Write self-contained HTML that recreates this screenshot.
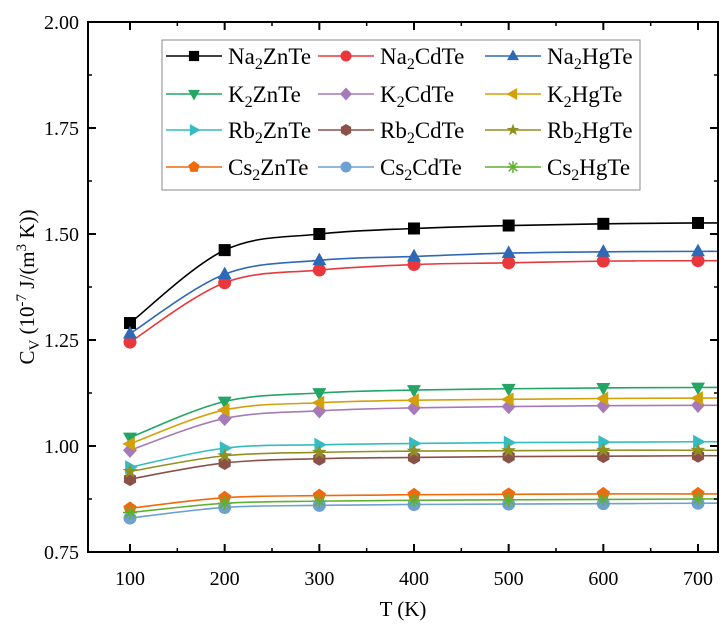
<!DOCTYPE html>
<html><head><meta charset="utf-8"><style>
body{margin:0;background:#fff}
svg, svg text, svg tspan{font-family:"Liberation Serif","Times New Roman",serif !important;fill:#000}
</style></head><body>
<svg id="chart" width="728" height="635" xmlns="http://www.w3.org/2000/svg" font-family="Liberation Serif, serif">
<g id="marks"></g>
<rect x="88" y="22" width="630" height="530" fill="none" stroke="#000" stroke-width="2"/>
<g id="axes"></g>
<text x="403" y="616" font-size="21" text-anchor="middle" font-family="Liberation Serif, serif">T (K)</text>
<text transform="translate(34,287) rotate(-90)" font-size="21" text-anchor="middle" font-family="Liberation Serif, serif">C<tspan font-size="15" dy="5">V</tspan><tspan dy="-5"> (10</tspan><tspan font-size="15" dy="-8">-7</tspan><tspan dy="8"> J/(m</tspan><tspan font-size="15" dy="-8">3</tspan><tspan dy="8"> K))</tspan></text>
<g id="legend"><rect x="162" y="40" width="478" height="150" fill="#fff" stroke="#888" stroke-width="1"/></g>
</svg>
<script>
const temps=[100,200,300,400,500,600,700];
const names=["Na2ZnTe","Na2CdTe","Na2HgTe","K2ZnTe","K2CdTe","K2HgTe","Rb2ZnTe","Rb2CdTe","Rb2HgTe","Cs2ZnTe","Cs2CdTe","Cs2HgTe"];
const na2znte=[1.29,1.462,1.50,1.513,1.52,1.524,1.526];
const na2cdte=[1.245,1.385,1.415,1.428,1.432,1.436,1.437];
const na2hgte=[1.265,1.405,1.438,1.447,1.455,1.458,1.459];
const k2znte=[1.02,1.105,1.125,1.132,1.135,1.137,1.138];
const k2cdte=[0.99,1.065,1.083,1.09,1.093,1.095,1.096];
const k2hgte=[1.005,1.085,1.102,1.108,1.11,1.112,1.113];
const rb2znte=[0.95,0.995,1.003,1.006,1.008,1.009,1.01];
const rb2cdte=[0.922,0.96,0.97,0.973,0.975,0.976,0.977];
const rb2hgte=[0.94,0.977,0.985,0.988,0.989,0.99,0.99];
const cs2znte=[0.853,0.878,0.883,0.885,0.886,0.887,0.887];
const cs2cdte=[0.83,0.855,0.86,0.862,0.863,0.864,0.865];
const cs2hgte=[0.843,0.865,0.87,0.872,0.873,0.874,0.875];
const xTicks=[100,200,300,400,500,600,700];
const yTicks=["0.75","1.00","1.25","1.50","1.75","2.00"];
const series=[na2znte,na2cdte,na2hgte,k2znte,k2cdte,k2hgte,rb2znte,rb2cdte,rb2hgte,cs2znte,cs2cdte,cs2hgte];
const colors=["#000","#e8383d","#2f68b5","#22a565","#a67ab8","#d4a00a","#35bcc2","#8b5048","#909020","#ee6a0c","#6ea0d2","#60b030"];
const shapes=["square","circle","up","down","diamond","left","right","hex","star","pent","circle","aster"];
const FF="Liberation Serif, serif";
const X=v=>130+(v-100)*568/600;
const Y=v=>22+(2-v)*424;
const NS="http://www.w3.org/2000/svg";
function mk(t,a,p){const e=document.createElementNS(NS,t);for(const k in a)e.setAttribute(k,a[k]);p.appendChild(e);return e;}
function marker(shape,cx,cy,c,p,s){
 s=s||1;let pts;const r=7*s;
 if(shape=="square")return mk("rect",{x:cx-6*s,y:cy-6*s,width:12*s,height:12*s,fill:c},p);
 if(shape=="circle")return mk("circle",{cx:cx,cy:cy,r:6.5*s,fill:c},p);
 if(shape=="hex"){pts=[];for(let i=0;i<6;i++){const a=Math.PI/6+i*Math.PI/3;pts.push([cx+r*Math.cos(a),cy+r*Math.sin(a)]);}}
 else if(shape=="pent"){pts=[];for(let i=0;i<5;i++){const a=-Math.PI/2+i*2*Math.PI/5;pts.push([cx+r*Math.cos(a),cy+r*Math.sin(a)]);}}
 else if(shape=="star"){pts=[];for(let i=0;i<10;i++){const a=-Math.PI/2+i*Math.PI/5,rr=i%2?r*0.45:r*1.1;pts.push([cx+rr*Math.cos(a),cy+rr*Math.sin(a)]);}}
 else if(shape=="up")pts=[[cx,cy-r*1.1],[cx+r,cy+r*0.7],[cx-r,cy+r*0.7]];
 else if(shape=="down")pts=[[cx,cy+r*1.1],[cx+r,cy-r*0.7],[cx-r,cy-r*0.7]];
 else if(shape=="left")pts=[[cx-r*1.1,cy],[cx+r*0.7,cy-r],[cx+r*0.7,cy+r]];
 else if(shape=="right")pts=[[cx+r*1.1,cy],[cx-r*0.7,cy-r],[cx-r*0.7,cy+r]];
 else if(shape=="diamond")pts=[[cx,cy-r*1.1],[cx+r,cy],[cx,cy+r*1.1],[cx-r,cy]];
 else if(shape=="aster"){const g=mk("g",{stroke:c,"stroke-width":1.5},p);for(let i=0;i<4;i++){const a=i*Math.PI/4;mk("line",{x1:cx-r*Math.cos(a),y1:cy-r*Math.sin(a),x2:cx+r*Math.cos(a),y2:cy+r*Math.sin(a)},g);}return g;}
 return mk("polygon",{points:pts.map(q=>q.join(",")).join(" "),fill:c},p);
}
const marks=document.getElementById("marks");
series.forEach((vals,si)=>{
 const g=mk("g",{},marks);
 
 
 const P=vals.map((v,i)=>[X(temps[i]),Y(v)]);
 P.push([718,Y(vals[vals.length-1])]);
 let d="M"+P[0][0]+","+P[0][1];
 for(let i=0;i<P.length-1;i++){const p0=P[Math.max(i-1,0)],p1=P[i],p2=P[i+1],p3=P[Math.min(i+2,P.length-1)];
  d+=" C"+(p1[0]+(p2[0]-p0[0])/6)+","+(p1[1]+(p2[1]-p0[1])/6)+" "+(p2[0]-(p3[0]-p1[0])/6)+","+(p2[1]-(p3[1]-p1[1])/6)+" "+p2[0]+","+p2[1];}
 const path=mk("path",{d:d,fill:"none",stroke:colors[si],"stroke-width":1.6},g);
 
 
 vals.forEach((v,i)=>{const m=marker(shapes[si],X(temps[i]),Y(v),colors[si],g);
  
  });
});
const ax=document.getElementById("axes");
xTicks.forEach(t=>{
 mk("line",{x1:X(t),y1:552,x2:X(t),y2:544,stroke:"#000","stroke-width":2},ax);
 mk("line",{x1:X(t),y1:22,x2:X(t),y2:30,stroke:"#000","stroke-width":2},ax);
 mk("line",{x1:X(t+50),y1:552,x2:X(t+50),y2:548,stroke:"#000","stroke-width":1.5},ax);
 mk("line",{x1:X(t+50),y1:22,x2:X(t+50),y2:26,stroke:"#000","stroke-width":1.5},ax);
 const tx=mk("text",{x:X(t),y:585,"font-size":20,"text-anchor":"middle","font-family":FF},ax);tx.textContent=t;
 
 
});
yTicks.forEach((t,i)=>{const v=parseFloat(t),y=Y(v);
 mk("line",{x1:88,y1:y,x2:96,y2:y,stroke:"#000","stroke-width":2},ax);
 mk("line",{x1:718,y1:y,x2:710,y2:y,stroke:"#000","stroke-width":2},ax);
 if(i<yTicks.length-1){const ym=Y(v+0.125);
  mk("line",{x1:88,y1:ym,x2:92,y2:ym,stroke:"#000","stroke-width":1.5},ax);
  mk("line",{x1:718,y1:ym,x2:714,y2:ym,stroke:"#000","stroke-width":1.5},ax);}
 const tx=mk("text",{x:79,y:y+7,"font-size":20,"text-anchor":"end","font-family":FF},ax);tx.textContent=t;
 
 
});
const lg=document.getElementById("legend");
const colX=[166,318,485];const rowY=[56,94,130,167];
names.forEach((n,i)=>{const c=i%3,r=Math.floor(i/3),x=colX[c],y=rowY[r];
 const g=mk("g",{},lg);
 
 
 mk("line",{x1:x,y1:y,x2:x+56,y2:y,stroke:colors[i],"stroke-width":1.6},g);
 marker(shapes[i],x+28,y,colors[i],g,0.85);
 const m=n.match(/^([A-Z][a-z]?)2(.*)$/);
 const t=mk("text",{x:x+62,y:y+8,"font-size":23,"font-family":FF},g);
 t.innerHTML=m[1]+'<tspan font-size="16" dy="5">2</tspan><tspan dy="-5">'+m[2]+'</tspan>';
});
</script>
</body></html>
